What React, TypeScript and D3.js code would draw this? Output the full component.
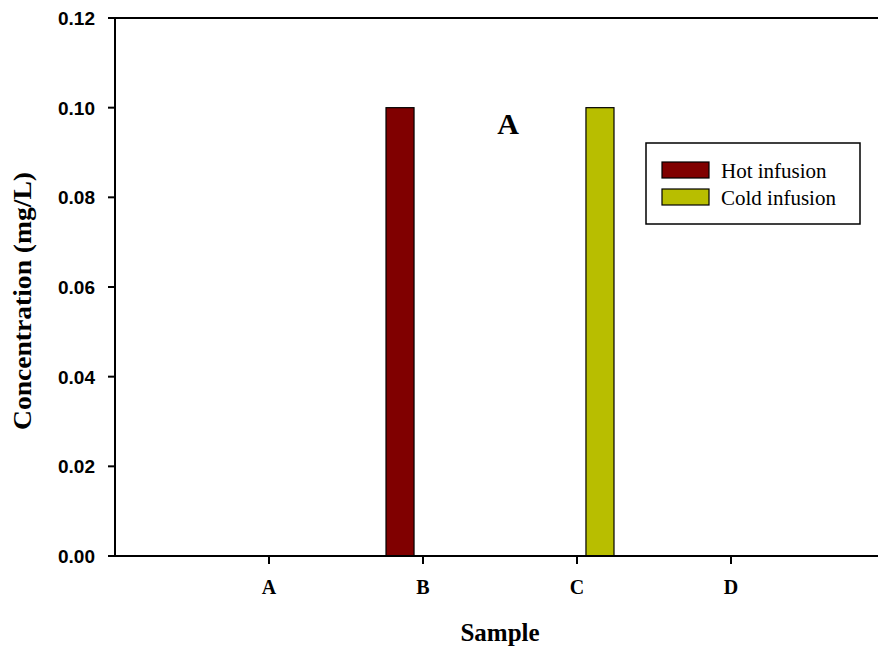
import React from 'react';
import { scaleLinear, scaleBand } from 'd3';

const width = 878;
const height = 651;

const samples = ['A', 'B', 'C', 'D'];
const seriesNames = ['Hot infusion', 'Cold infusion'];
const hotValues = [0, 0.1, 0, 0];
const coldValues = [0, 0, 0.1, 0];
const yTicks = [0, 0.02, 0.04, 0.06, 0.08, 0.1, 0.12];

const colors = ['#800000', '#b8be00'];

const left = 115;
const top = 18;
const bottom = 556;

// categories sit at index 0..3, one empty slot on the left
const x = scaleLinear().domain([-1, 4]).range([left, 885]);
const inner = scaleBand().domain(seriesNames).range([-37, 37]).paddingInner(0.39).paddingOuter(0);
const y = scaleLinear().domain([0, 0.12]).range([bottom, top]);

const serif = "'Liberation Serif', 'Times New Roman', serif";
const sans = "'Liberation Sans', Arial, sans-serif";

export default function App() {
    const series = [hotValues, coldValues];

    return (
        <div style={{ position: 'absolute', left: 0, top: 0 }}>
            <svg width={width} height={height} style={{ display: 'block', background: '#fff' }}>
                {/* bars */}
                {series.map((vals, si) =>
                    vals.map((v, i) => (
                        <rect
                            key={si + '-' + i}
                            x={x(i) + inner(seriesNames[si])}
                            y={y(v)}
                            width={inner.bandwidth()}
                            height={bottom - y(v)}
                            fill={colors[si]}
                            stroke="#000"
                            strokeWidth={1.2}
                        />
                    ))
                )}

                {/* frame */}
                <line x1={left} x2={left} y1={top} y2={bottom} stroke="#000" strokeWidth={2} />
                <line x1={left - 7} x2={885} y1={bottom} y2={bottom} stroke="#000" strokeWidth={2} />
                <line x1={left} x2={885} y1={top} y2={top} stroke="#000" strokeWidth={2} />

                {/* y axis */}
                {yTicks.map(t => (
                    <g key={t}>
                        <line x1={left - 7} x2={left} y1={y(t)} y2={y(t)} stroke="#000" strokeWidth={2} />
                        <text
                            x={95}
                            y={y(t)}
                            dy="0.36em"
                            textAnchor="end"
                            fontFamily={sans}
                            fontWeight="bold"
                            fontSize={19}
                        >
                            {t.toFixed(2)}
                        </text>
                    </g>
                ))}

                {/* x axis */}
                {samples.map((s, i) => (
                    <g key={s}>
                        <line x1={x(i)} x2={x(i)} y1={bottom} y2={bottom + 8} stroke="#000" strokeWidth={2} />
                        <text
                            x={x(i)}
                            y={594}
                            textAnchor="middle"
                            fontFamily={serif}
                            fontWeight="bold"
                            fontSize={20}
                        >
                            {s}
                        </text>
                    </g>
                ))}

                <text x={500} y={641} textAnchor="middle" fontFamily={serif} fontWeight="bold" fontSize={25}>
                    Sample
                </text>
                <text
                    transform={`translate(31,${301}) rotate(-90)`}
                    textAnchor="middle"
                    fontFamily={serif}
                    fontWeight="bold"
                    fontSize={25}
                    textLength={258}
                    lengthAdjust="spacingAndGlyphs"
                >
                    Concentration (mg/L)
                </text>

                {/* panel label */}
                <text x={508} y={134} textAnchor="middle" fontFamily={serif} fontWeight="bold" fontSize={30}>
                    A
                </text>

                {/* legend */}
                <rect x={646} y={143} width={214} height={81} fill="#fff" stroke="#000" strokeWidth={1.5} />
                {seriesNames.map((name, i) => (
                    <g key={name} transform={`translate(0,${i * 27})`}>
                        <rect x={662} y={162} width={47} height={16} fill={colors[i]} stroke="#000" strokeWidth={1.2} />
                        <text x={721} y={178} fontFamily={serif} fontSize={21}>
                            {name}
                        </text>
                    </g>
                ))}
            </svg>
        </div>
    );
}
